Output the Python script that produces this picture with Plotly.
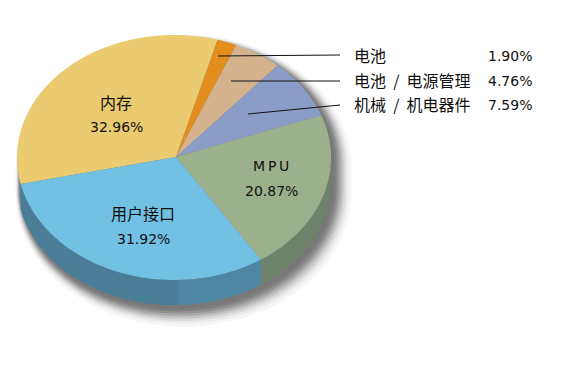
import numpy as np
import plotly.graph_objects as go

W, H = 572, 367
labels = ["内存", "电池", "电池 / 电源管理", "机械 / 机电器件", "MPU", "用户接口"]
values = [32.96, 1.90, 4.76, 7.59, 20.87, 31.92]
top_colors = ["#EACB70", "#E38D1F", "#D4B28E", "#8A9DC6", "#9DB08C", "#72C0E3"]
side_colors = [None, None, None, None, "#6F826A", "#4E87A4"]
blue_shade = "#4A7D96"
blue_shade_part = 0.28
shadow_grow = [11, 9, 7.5, 6, 4.5, 3, 1.5, 0]
shadow_grey = ["#F6F6F6", "#EBEBEB", "#DADADA", "#C4C4C4", "#ABABAB", "#929292", "#808080", "#787878"]
start_deg = 192.5
cx, cy, rx, ry, depth = 174, 157.5, 157, 122.5, 25
ax0, ay0 = 176, 157

def ell(t, dy=0, grow=0, ox=0):
    t = np.radians(t)
    return cx + ox + (rx + grow) * np.cos(t), cy + dy - (ry + grow) * np.sin(t)

def warp(t):
    # the perspective of the drawing pulls the front-right rim clockwise
    f = np.clip((73.8 - t) / 241.3, 0, 1)
    return t - 3.8 * np.sin(np.pi * f)

fig = go.Figure()
for g, c in zip(shadow_grow, shadow_grey):
    o = 3 + 0.6 * g
    xa, ya = ell(np.linspace(0, 180, 91), 4 + 0.6 * g, g, o)
    xb, yb = ell(np.linspace(180, 360, 91), depth + 4 + 0.6 * g, g, o)
    fig.add_trace(go.Scatter(x=np.r_[xa, xb], y=np.r_[ya, yb], fill="toself", mode="none", fillcolor=c, hoverinfo="skip"))

bounds = start_deg - np.cumsum([0] + values) * 3.6

def wall(a, b, c):
    t = warp(np.linspace(a, b, 60))
    x1, y1 = ell(t)
    x2, y2 = ell(t[::-1], depth)
    fig.add_trace(go.Scatter(x=np.r_[x1, x2], y=np.r_[y1, y2], fill="toself", mode="none", fillcolor=c, hoverinfo="skip"))

for i, c in enumerate(side_colors):
    if c:
        wall(bounds[i], bounds[i + 1], c)
wall(bounds[6] + (bounds[5] - bounds[6]) * (1 - blue_shade_part), bounds[6], blue_shade)

for i, c in enumerate(top_colors):
    t = warp(np.linspace(bounds[i], bounds[i + 1], 60))
    x1, y1 = ell(t)
    fig.add_trace(go.Scatter(x=np.r_[ax0, x1, ax0], y=np.r_[ay0, y1, ay0], fill="toself", mode="none", fillcolor=c, hoverinfo="skip"))

leaders = [((218, 56), (340, 55)), ((231, 81), (340, 81)), ((248, 114), (340, 105))]
for (a, b) in leaders:
    fig.add_trace(go.Scatter(x=[a[0], b[0]], y=[a[1], b[1]], mode="lines", line=dict(color="#111", width=1), hoverinfo="skip"))

cjk = "Noto Sans CJK SC"
num = "DejaVu Sans"
def text(x, y, s, anchor="center", font=cjk, size=16):
    fig.add_annotation(x=x, y=y, text=s, showarrow=False, xanchor=anchor, yanchor="middle", borderpad=0, borderwidth=0,
                       font=dict(family=font, size=size, color="#111"))

text(116, 102, labels[0]); text(116, 127, f"{values[0]:.2f}%", font=num, size=14)
text(271, 166, "\u2009".join(labels[4]), font=num, size=14); text(271, 191, f"{values[4]:.2f}%", font=num, size=14)
text(143, 213, labels[5]); text(143, 239, f"{values[5]:.2f}%", font=num, size=14)
for i, y in zip([1, 2, 3], [56, 81, 105]):
    text(354, y - 1, labels[i].replace(" / ", "  /  "), anchor="left")
    text(532, y, f"{values[i]:.2f}%", anchor="right", font=num, size=14)

fig.update_layout(width=W, height=H, margin=dict(l=0, r=0, t=0, b=0), showlegend=False,
                  paper_bgcolor="white", plot_bgcolor="white",
                  xaxis=dict(range=[0, W], visible=False), yaxis=dict(range=[H, 0], visible=False))
fig.write_html("out.html", post_script="document.body.style.margin='0';", config={"displayModeBar": False})
